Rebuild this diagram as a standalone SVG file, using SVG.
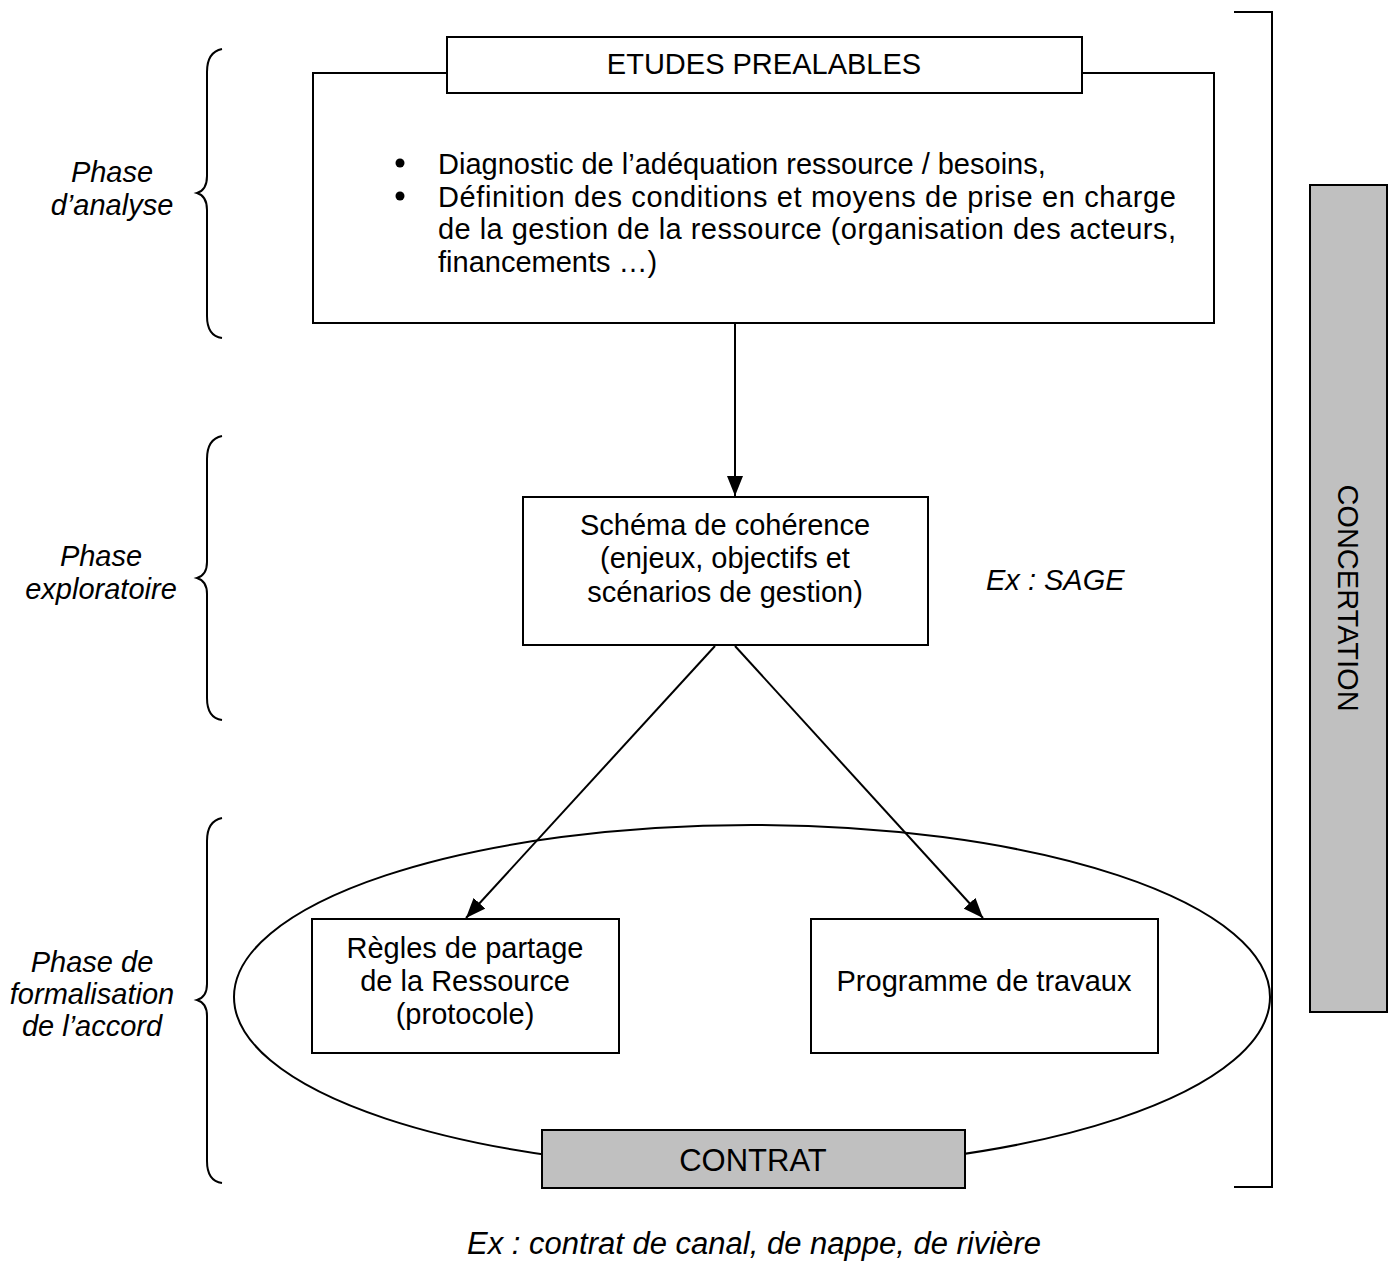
<svg xmlns="http://www.w3.org/2000/svg" width="1394" height="1269" viewBox="0 0 1394 1269">
<style>
text{font-family:"Liberation Sans",Arial,sans-serif;font-size:29px;fill:#000}
.i{font-style:italic}
.m{text-anchor:middle}
.box{fill:#fff;stroke:#000;stroke-width:2}
.grey{fill:#c0c0c0;stroke:#000;stroke-width:2}
.ln{fill:none;stroke:#000;stroke-width:2}
</style>
<defs>
<marker id="ah" markerWidth="20" markerHeight="16" refX="20" refY="8" orient="auto" markerUnits="userSpaceOnUse">
<path d="M0,0 L20,8 L0,16 Z" fill="#000"/>
</marker>
</defs>
<rect width="1394" height="1269" fill="#fff"/>

<g id="braces" class="ln">
<path class="ln" d="M222,49 Q207,52 207,72 L207,176 Q207,190 197,193 Q207,196 207,210 L207,316 Q207,336 222,338"/>
<path class="ln" d="M222,436 Q207,439 207,459 L207,562 Q207,575 197,578 Q207,581 207,594 L207,698 Q207,718 222,720"/>
<path class="ln" d="M222,818 Q207,821 207,841 L207,984 Q207,997 197,1000 Q207,1003 207,1016 L207,1161 Q207,1181 222,1183"/>
</g>
<g id="labels">
<text class="i m" x="112" y="182">Phase</text>
<text class="i m" x="112" y="215">d’analyse</text>
<text class="i m" x="101" y="566">Phase</text>
<text class="i m" x="101" y="599">exploratoire</text>
<text class="i m" x="92" y="972">Phase de</text>
<text class="i m" x="92" y="1004">formalisation</text>
<text class="i m" x="92" y="1036">de l’accord</text>
</g>

<g id="concertation-bracket">
<path class="ln" d="M1234,12 L1272,12 L1272,1187 L1234,1187"/>
</g>
<g id="concertation">
<rect class="grey" x="1310" y="185" width="77" height="827"/>
<text class="m" transform="translate(1348,598) rotate(90)" x="0" y="10.5">CONCERTATION</text>
</g>

<g id="contrat-ellipse">
<ellipse class="ln" cx="752" cy="997" rx="518" ry="172"/>
</g>

<g id="etudes">
<rect class="box" x="313" y="73" width="901" height="250"/>
<rect class="box" x="447" y="37" width="635" height="56"/>
<text class="m" x="764" y="74">ETUDES PREALABLES</text>
<circle cx="400" cy="163" r="4.5" fill="#000"/>
<circle cx="400" cy="196" r="4.5" fill="#000"/>
<text x="438" y="174">Diagnostic de l’adéquation ressource / besoins,</text>
<text x="438" y="207" textLength="738" lengthAdjust="spacing">Définition des conditions et moyens de prise en charge</text>
<text x="438" y="239" textLength="738" lengthAdjust="spacing">de la gestion de la ressource (organisation des acteurs,</text>
<text x="438" y="272">financements …)</text>
</g>

<g id="schema">
<rect class="box" x="523" y="497" width="405" height="148"/>
<text class="m" x="725" y="535">Schéma de cohérence</text>
<text class="m" x="725" y="568">(enjeux, objectifs et</text>
<text class="m" x="725" y="602">scénarios de gestion)</text>
</g>
<g id="sage">
<text class="i" x="986" y="590">Ex : SAGE</text>
</g>

<g id="regles">
<rect class="box" x="312" y="919" width="307" height="134"/>
<text class="m" x="465" y="958">Règles de partage</text>
<text class="m" x="465" y="991">de la Ressource</text>
<text class="m" x="465" y="1024">(protocole)</text>
</g>
<g id="programme">
<rect class="box" x="811" y="919" width="347" height="134"/>
<text class="m" x="984" y="991">Programme de travaux</text>
</g>

<g id="contrat">
<rect class="grey" x="542" y="1130" width="423" height="58"/>
<text class="m" x="753" y="1171" style="font-size:31px">CONTRAT</text>
</g>

<g id="exemple">
<text class="i m" x="754" y="1254" style="font-size:31px">Ex : contrat de canal, de nappe, de rivière</text>
</g>

<g id="connectors">
<line class="ln" x1="735" y1="324" x2="735" y2="496" marker-end="url(#ah)"/>
<line class="ln" x1="715" y1="646" x2="466" y2="918" marker-end="url(#ah)"/>
<line class="ln" x1="735" y1="646" x2="983" y2="918" marker-end="url(#ah)"/>
</g>
</svg>
